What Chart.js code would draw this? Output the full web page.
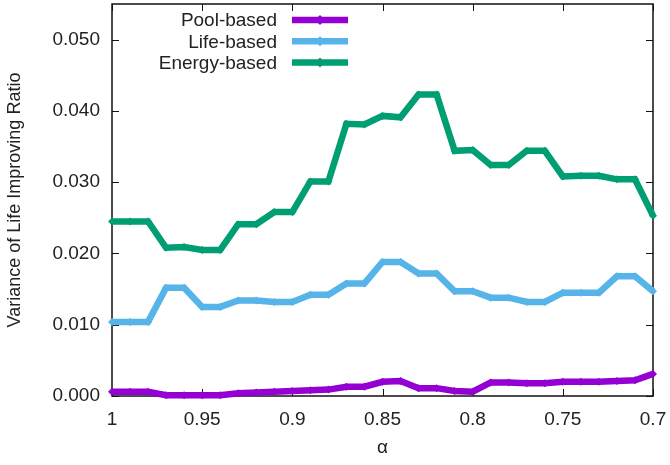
<!DOCTYPE html>
<html>
<head>
<meta charset="utf-8">
<script src="https://cdn.jsdelivr.net/npm/chart.js@4/dist/chart.umd.min.js"></script>
<style>
  html, body { margin: 0; padding: 0; background: #fff; }
  #wrap { width: 670px; height: 465px; }
</style>
</head>
<body>
<div id="wrap"><canvas id="chart" width="670" height="465"></canvas></div>
<script>
// alpha from 1.00 down to 0.70 in steps of 0.01
const alphas = [1.00, 0.99, 0.98, 0.97, 0.96, 0.95, 0.94, 0.93, 0.92, 0.91, 0.90,
  0.89, 0.88, 0.87, 0.86, 0.85, 0.84, 0.83, 0.82, 0.81, 0.80,
  0.79, 0.78, 0.77, 0.76, 0.75, 0.74, 0.73, 0.72, 0.71, 0.70];

const poolBased = [0.0006, 0.0006, 0.0006, 0.0001, 0.0001, 0.0001, 0.0001, 0.0004, 0.0005, 0.0006, 0.0007,
  0.0008, 0.0009, 0.0013, 0.0013, 0.0020, 0.0021, 0.0011, 0.0011, 0.0007, 0.0006,
  0.0019, 0.0019, 0.0018, 0.0018, 0.0020, 0.0020, 0.0020, 0.0021, 0.0022, 0.0031];

const lifeBased = [0.0104, 0.0104, 0.0104, 0.0152, 0.0152, 0.0125, 0.0125, 0.0134, 0.0134, 0.0132, 0.0132,
  0.0142, 0.0142, 0.0158, 0.0158, 0.0188, 0.0188, 0.0172, 0.0172, 0.0147, 0.0147,
  0.0138, 0.0138, 0.0132, 0.0132, 0.0145, 0.0145, 0.0145, 0.0168, 0.0168, 0.0147];

const energyBased = [0.0245, 0.0245, 0.0245, 0.0208, 0.0209, 0.0205, 0.0205, 0.0241, 0.0241, 0.0258, 0.0258,
  0.0301, 0.0301, 0.0382, 0.0381, 0.0393, 0.0391, 0.0423, 0.0423, 0.0344, 0.0345,
  0.0324, 0.0324, 0.0344, 0.0344, 0.0308, 0.0309, 0.0309, 0.0304, 0.0304, 0.0253];

const seriesNames = ['Pool-based', 'Life-based', 'Energy-based'];
const seriesColors = ['#9400d3', '#56b4e9', '#009e73'];
const yTicks = [0, 0.01, 0.02, 0.03, 0.04, 0.05];
const xTicks = [1, 0.95, 0.9, 0.85, 0.8, 0.75, 0.7];

const FONT = 'Liberation Sans, Arial, sans-serif';
const TEXT = '#222';

const toPoints = vals => vals.map((v, i) => ({ x: alphas[i], y: v }));

const datasets = [poolBased, lifeBased, energyBased].map((vals, i) => ({
  label: seriesNames[i],
  data: toPoints(vals),
  borderColor: seriesColors[i],
  backgroundColor: seriesColors[i],
  borderWidth: 6.5,
  pointStyle: 'rectRot',
  pointRadius: 4,
  pointBorderWidth: 0,
  tension: 0,
  clip: false,
}));

// gnuplot-like frame with inward ticks on all four sides
const framePlugin = {
  id: 'gpFrame',
  beforeDatasetsDraw(chart) {
    const { ctx, chartArea: a } = chart;
    const xs = chart.scales.x, ys = chart.scales.y;
    ctx.save();
    ctx.strokeStyle = '#111';
    ctx.lineWidth = 1.5;
    ctx.strokeRect(a.left, a.top, a.right - a.left, a.bottom - a.top);
    ctx.lineWidth = 1;
    const len = 7;
    ctx.beginPath();
    yTicks.forEach(t => {
      const y = Math.round(ys.getPixelForValue(t)) + 0.5;
      ctx.moveTo(a.left, y); ctx.lineTo(a.left + len, y);
      ctx.moveTo(a.right, y); ctx.lineTo(a.right - len, y);
    });
    xTicks.forEach(t => {
      const x = Math.round(xs.getPixelForValue(t)) + 0.5;
      ctx.moveTo(x, a.bottom); ctx.lineTo(x, a.bottom - len);
      ctx.moveTo(x, a.top); ctx.lineTo(x, a.top + len);
    });
    ctx.stroke();
    ctx.restore();
  }
};

// key in the top left: right-aligned text, sample line to the right
const keyPlugin = {
  id: 'gpKey',
  afterDatasetsDraw(chart) {
    const { ctx } = chart;
    ctx.save();
    ctx.font = '19px ' + FONT;
    ctx.textAlign = 'right';
    ctx.textBaseline = 'middle';
    chart.data.datasets.forEach((ds, i) => {
      const y = 20 + i * 21.3;
      ctx.fillStyle = TEXT;
      ctx.fillText(ds.label, 277, y + 1);
      ctx.strokeStyle = ds.borderColor;
      ctx.lineWidth = 6.5;
      ctx.beginPath();
      ctx.moveTo(292, y); ctx.lineTo(348, y);
      ctx.stroke();
      ctx.fillStyle = ds.borderColor;
      ctx.beginPath();
      ctx.moveTo(320, y - 5); ctx.lineTo(325, y); ctx.lineTo(320, y + 5); ctx.lineTo(315, y);
      ctx.closePath();
      ctx.fill();
    });
    ctx.restore();
  }
};

new Chart(document.getElementById('chart'), {
  type: 'line',
  data: { datasets },
  plugins: [framePlugin, keyPlugin],
  options: {
    responsive: false,
    animation: false,
    layout: { padding: { top: 3, right: 17, left: 0, bottom: 0 } },
    plugins: { legend: { display: false }, tooltip: { enabled: false } },
    scales: {
      x: {
        type: 'linear',
        reverse: true,
        min: 0.7,
        max: 1,
        afterBuildTicks: s => { s.ticks = xTicks.map(v => ({ value: v })); },
        afterFit: s => { s.height = 69; s.paddingLeft = 0; s.paddingRight = 0; },
        border: { display: false },
        grid: { display: false },
        ticks: {
          color: TEXT,
          font: { family: FONT, size: 19 },
          padding: 4,
          maxRotation: 0,
          callback: v => String(+v.toFixed(2)),
        },
        title: {
          display: true,
          text: 'α',
          color: TEXT,
          font: { family: FONT, size: 19 },
          padding: { top: 4, bottom: 6 },
        },
      },
      y: {
        min: 0,
        max: 0.055,
        afterBuildTicks: s => { s.ticks = yTicks.map(v => ({ value: v })); },
        afterFit: s => { s.width = 112; s.paddingTop = 0; s.paddingBottom = 0; },
        border: { display: false },
        grid: { display: false },
        ticks: {
          color: TEXT,
          font: { family: FONT, size: 19 },
          padding: 4,
          callback: v => v.toFixed(3),
        },
        title: {
          display: true,
          text: 'Variance of Life Improving Ratio',
          color: TEXT,
          font: { family: FONT, size: 18 },
          padding: { bottom: 4 },
        },
      },
    },
  },
});
</script>
</body>
</html>
